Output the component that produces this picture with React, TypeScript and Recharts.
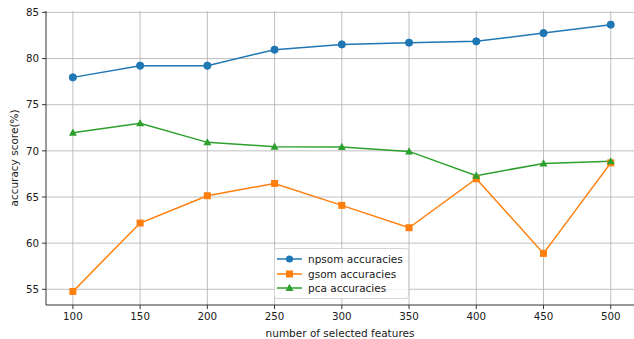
import React from "react";
import {
  LineChart,
  Line,
  XAxis,
  YAxis,
  CartesianGrid,
  ReferenceLine,
} from "recharts";

const features = [100, 150, 200, 250, 300, 350, 400, 450, 500];
const npsom = [77.96, 79.23, 79.23, 80.96, 81.53, 81.72, 81.86, 82.76, 83.67];
const gsom = [54.77, 62.18, 65.14, 66.47, 64.09, 61.67, 66.98, 58.89, 68.7];
const pca = [71.97, 72.98, 70.92, 70.45, 70.42, 69.94, 67.31, 68.64, 68.86];
const xTicks = [100, 150, 200, 250, 300, 350, 400, 450, 500];
const yTicks = [55, 60, 65, 70, 75, 80, 85];
const seriesNames = ["npsom accuracies", "gsom accuracies", "pca accuracies"];

const BLUE = "#1f77b4";
const ORANGE = "#ff7f0e";
const GREEN = "#2ca02c";

const data = features.map((x, i) => ({
  x,
  npsom: npsom[i],
  gsom: gsom[i],
  pca: pca[i],
}));

const FONT = "DejaVu Sans, sans-serif";
const TEXT = "#1a1a1a";
const GRID = "#b0b0b0";

const CircleDot = (props: any) => {
  const { cx, cy, key } = props;
  if (cx == null || cy == null) return null;
  return <circle key={key} cx={cx} cy={cy} r={3.6} fill={BLUE} stroke={BLUE} />;
};
const SquareDot = (props: any) => {
  const { cx, cy, key } = props;
  if (cx == null || cy == null) return null;
  return <rect key={key} x={cx - 3.5} y={cy - 3.5} width={7} height={7} fill={ORANGE} />;
};
const TriDot = (props: any) => {
  const { cx, cy, key } = props;
  if (cx == null || cy == null) return null;
  return (
    <polygon
      key={key}
      points={`${cx},${cy - 4.2} ${cx - 4},${cy + 3} ${cx + 4},${cy + 3}`}
      fill={GREEN}
    />
  );
};

const markerIcon = (i: number) => {
  const color = [BLUE, ORANGE, GREEN][i];
  return (
    <svg width={25} height={10} style={{ display: "block" }}>
      <line x1={0} y1={5} x2={25} y2={5} stroke={color} strokeWidth={1.5} />
      {i === 0 && <circle cx={12.5} cy={5} r={3.6} fill={color} />}
      {i === 1 && <rect x={9} y={1.5} width={7} height={7} fill={color} />}
      {i === 2 && <polygon points="12.5,0.8 8.5,8 16.5,8" fill={color} />}
    </svg>
  );
};

const LegendBox = () => (
  <div
    style={{
      position: "absolute",
      left: 274,
      top: 248,
      width: 133,
      height: 49,
      background: "rgba(255,255,255,0.8)",
      border: "1px solid #d5d5d5",
      borderRadius: 3,
      fontFamily: FONT,
      fontSize: 10.5,
      color: TEXT,
      boxSizing: "content-box",
    }}
  >
    {seriesNames.map((n, i) => (
      <div
        key={n}
        style={{
          display: "flex",
          alignItems: "center",
          height: 14.7,
          marginTop: i === 0 ? 2.5 : 0,
          paddingLeft: 2,
        }}
      >
        {markerIcon(i)}
        <span style={{ marginLeft: 6, whiteSpace: "nowrap" }}>{n}</span>
      </div>
    ))}
  </div>
);

const YLabel = (props: any) => {
  const vb = props.viewBox || {};
  const cy = vb.y + vb.height / 2;
  return (
    <text
      x={14}
      y={cy}
      transform={`rotate(-90 14 ${cy})`}
      textAnchor="middle"
      dominantBaseline="central"
      fontFamily={FONT}
      fontSize={10.5}
      fill={TEXT}
    >
      accuracy score(%)
    </text>
  );
};

export default function App() {
  return (
    <div style={{ position: "absolute", left: 0, top: 0, width: 634, height: 339, background: "#fff", overflow: "hidden" }}>
      <LineChart
        width={634}
        height={339}
        data={data}
        margin={{ top: 11, right: 0, bottom: 0, left: 0 }}
      >
        <CartesianGrid stroke={GRID} strokeWidth={0.8} vertical={false} horizontalValues={yTicks} />
        {xTicks.map((t) => (
          <ReferenceLine key={t} x={t} stroke={GRID} strokeWidth={0.8} ifOverflow="hidden" />
        ))}
        <XAxis
          dataKey="x"
          type="number"
          domain={[80, 517.3]}
          ticks={xTicks}
          allowDataOverflow
          height={34}
          tickSize={4}
          tickMargin={4}
          axisLine={{ stroke: "#333", strokeWidth: 1 }}
          tickLine={{ stroke: "#333" }}
          tick={{ fontFamily: FONT, fontSize: 10.3, fill: TEXT }}
          label={{
            value: "number of selected features",
            position: "insideBottom",
            offset: 2,
            style: { fontFamily: FONT, fontSize: 10.5, fill: TEXT },
          }}
        />
        <XAxis
          xAxisId="top"
          dataKey="x"
          type="number"
          orientation="top"
          domain={[80, 517.3]}
          ticks={xTicks}
          allowDataOverflow
          height={0}
          tick={false}
          tickLine={false}
          axisLine={{ stroke: "#333", strokeWidth: 1 }}
        />
        <YAxis
          type="number"
          domain={[53.3, 85.15]}
          ticks={yTicks}
          allowDataOverflow
          width={46}
          tickSize={4}
          tickMargin={3}
          axisLine={{ stroke: "#333", strokeWidth: 1 }}
          tickLine={{ stroke: "#333" }}
          tick={{ fontFamily: FONT, fontSize: 10.3, fill: TEXT }}
          label={{ content: <YLabel /> }}
        />
        <Line
          dataKey="npsom"
          stroke={BLUE}
          strokeWidth={1.5}
          dot={<CircleDot />}
          isAnimationActive={false}
        />
        <Line
          dataKey="gsom"
          stroke={ORANGE}
          strokeWidth={1.5}
          dot={<SquareDot />}
          isAnimationActive={false}
        />
        <Line
          dataKey="pca"
          stroke={GREEN}
          strokeWidth={1.5}
          dot={<TriDot />}
          isAnimationActive={false}
        />
      </LineChart>
      <LegendBox />
    </div>
  );
}
